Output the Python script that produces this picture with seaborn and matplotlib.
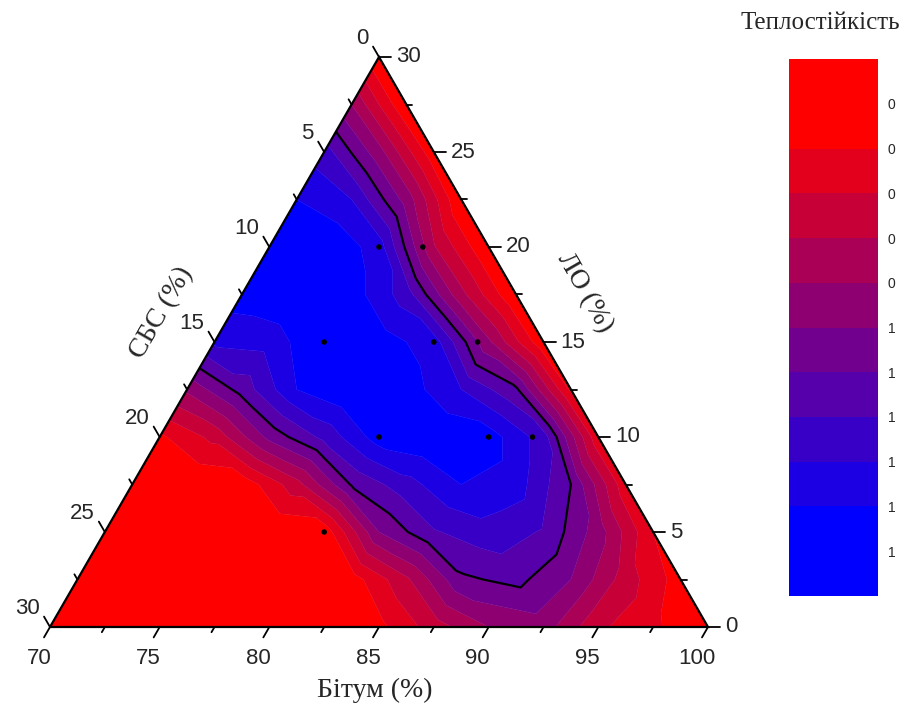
import numpy as np
import matplotlib
matplotlib.use("Agg")
import matplotlib.pyplot as plt
import matplotlib.tri as mtri
import seaborn as sns

sns.set_style("white")
plt.rcParams["font.family"] = ["Liberation Sans", "DejaVu Sans"]

# ---- contour data on a 2.5 % lattice ----
# rows of constant ЛО (%); within a row СБС = 0, 2.5, 5, ... ; Бітум = 100 - СБС - ЛО
lo_rows = [0, 2.5, 5, 7.5, 10, 12.5, 15, 17.5, 20, 22.5, 25, 27.5, 30]
heat_lo0 = [0.00, 0.12, 0.22, 0.45, 0.40, 0.25, 0.07, 0.00, 0.00, 0.00, 0.00, 0.00, 0.00]
heat_lo2_5 = [0.05, 0.25, 0.50, 0.63, 0.58, 0.28, 0.05, 0.00, 0.00, 0.00, 0.00, 0.00]
heat_lo5 = [0.10, 0.45, 0.69, 0.76, 0.69, 0.50, 0.03, 0.00, 0.00, 0.00, 0.00]
heat_lo7_5 = [0.13, 0.60, 0.85, 0.90, 0.76, 0.61, 0.26, 0.03, 0.00, 0.00]
heat_lo10 = [0.12, 0.75, 0.95, 1.00, 0.95, 0.73, 0.53, 0.23, 0.08]
heat_lo12_5 = [0.08, 0.62, 0.80, 0.95, 1.00, 0.90, 0.64, 0.42]
heat_lo15 = [0.02, 0.42, 0.85, 0.95, 1.00, 0.84, 0.82]
heat_lo17_5 = [0.00, 0.33, 0.75, 0.95, 1.00, 0.95]
heat_lo20 = [0.00, 0.31, 0.85, 1.00, 0.95]
heat_lo22_5 = [0.00, 0.46, 0.80, 0.90]
heat_lo25 = [0.03, 0.44, 0.75]
heat_lo27_5 = [0.00, 0.40]
heat_lo30 = [0.00]
heat_rows = [heat_lo0, heat_lo2_5, heat_lo5, heat_lo7_5, heat_lo10, heat_lo12_5,
             heat_lo15, heat_lo17_5, heat_lo20, heat_lo22_5, heat_lo25,
             heat_lo27_5, heat_lo30]
sbs_step = 2.5

# ---- measured compositions (dots) ----
dot_bitum = [75, 77, 75, 80, 82, 80, 85, 87, 80]
dot_sbs = [5, 3, 10, 5, 3, 10, 5, 3, 15]
dot_lo = [20, 20, 15, 15, 15, 10, 10, 10, 5]

bitum_ticks = [70, 75, 80, 85, 90, 95, 100]
sbs_ticks = [0, 5, 10, 15, 20, 25, 30]
lo_ticks = [0, 5, 10, 15, 20, 25, 30]
cbar_ticks = [0.0, 0.1, 0.2, 0.3, 0.4, 0.5, 0.6, 0.7, 0.8, 0.9, 1.0]
cbar_labels = ["0", "0", "0", "0", "0", "1", "1", "1", "1", "1", "1"]
band_edges = [-0.1, 0.1, 0.2, 0.3, 0.4, 0.5, 0.6, 0.7, 0.8, 0.9, 1.1]
line_level = [0.6]

H = np.sqrt(3) / 2


def tern(bitum, sbs, lo):
    b = (np.asarray(bitum, float) - 70) / 30
    l = np.asarray(lo, float) / 30
    return b + l / 2, l * H


# assemble lattice table
g_sbs, g_lo, g_val = [], [], []
for lo_v, row in zip(lo_rows, heat_rows):
    for i, v in enumerate(row):
        g_sbs.append(i * sbs_step)
        g_lo.append(lo_v)
        g_val.append(v)
g_sbs = np.array(g_sbs)
g_lo = np.array(g_lo)
g_val = np.array(g_val)
g_bit = 100 - g_sbs - g_lo

W, Hpx = 907, 710
fig = plt.figure(figsize=(W / 100, Hpx / 100), dpi=100)
ax = fig.add_axes([50 / W, 83 / Hpx, 658 / W, 570 / Hpx])

gx, gy = tern(g_bit, g_sbs, g_lo)
tri = mtri.Triangulation(gx, gy)
colors = sns.blend_palette(["#FF0000", "#0000FF"], 10)
cf = ax.tricontourf(tri, g_val, levels=band_edges, colors=colors, antialiased=True)
cf.set_edgecolor("face")
cf.set_linewidth(0.25)
ax.tricontour(tri, g_val, levels=line_level, colors="k", linewidths=1.6)

# triangle frame
ax.plot([0, 1, 0.5, 0], [0, 0, H, 0], color="k", lw=1.6, clip_on=False,
        solid_joinstyle="miter", zorder=5)

# dots
dx, dy = tern(dot_bitum, dot_sbs, dot_lo)
sns.scatterplot(x=dx, y=dy, ax=ax, color="k", s=16, edgecolor="none",
                zorder=6, legend=False)
ax.set_xlim(0, 1)
ax.set_ylim(0, H)
ax.axis("off")

px = 1 / 658.0  # data units per pixel
maj, mnr = 12 * px, 6 * px
tick_font = dict(fontsize=16, family=["Liberation Sans", "DejaVu Sans"])

# bottom axis (Бітум): ticks parallel to left edge, down-left
d_b = np.array([-0.5, -H])
for v in np.arange(70, 100.01, 2.5):
    x0 = (v - 70) / 30
    L = maj if abs(v % 5) < 1e-9 else mnr
    ax.plot([x0, x0 + d_b[0] * L], [0, d_b[1] * L], color="k", lw=1.3,
            clip_on=False, zorder=5)
for v in bitum_ticks:
    x0 = (v - 70) / 30
    ax.text(x0 - 11 * px, -31 * px, str(v), ha="center", va="center",
            clip_on=False, **tick_font)

# left axis (СБС): ticks parallel to right edge, up-left
d_l = np.array([-0.5, H])
for v in np.arange(0, 30.01, 2.5):
    s = v / 30
    x0, y0 = (1 - s) / 2, (1 - s) * H
    L = maj if abs(v % 5) < 1e-9 else mnr
    ax.plot([x0, x0 + d_l[0] * L], [y0, y0 + d_l[1] * L], color="k", lw=1.3,
            clip_on=False, zorder=5)
for v in sbs_ticks:
    s = v / 30
    x0, y0 = (1 - s) / 2, (1 - s) * H
    ax.text(x0 + d_l[0] * 21 * px, y0 + d_l[1] * 21 * px, str(v),
            ha="right", va="center", clip_on=False, **tick_font)

# right axis (ЛО): horizontal ticks
for v in np.arange(0, 30.01, 2.5):
    l = v / 30
    x0, y0 = 1 - l / 2, l * H
    L = maj if abs(v % 5) < 1e-9 else mnr
    ax.plot([x0, x0 + L], [y0, y0], color="k", lw=1.3, clip_on=False, zorder=5)
for v in lo_ticks:
    l = v / 30
    x0, y0 = 1 - l / 2, l * H
    ax.text(x0 + 17 * px, y0, str(v), ha="left", va="center",
            clip_on=False, **tick_font)

serif = ["Liberation Serif", "DejaVu Serif"]
fig.text(375 / W, 1 - 690 / Hpx, "Бітум (%)", ha="center", va="center",
         fontsize=20, family=serif)
fig.text(162 / W, 1 - 313 / Hpx, "СБС (%)", ha="center", va="center",
         fontsize=20, family=serif, rotation=60)
fig.text(585 / W, 1 - 293 / Hpx, "ЛО (%)", ha="center", va="center",
         fontsize=20, family=serif, rotation=-60)
fig.text(820 / W, 1 - 23 / Hpx, "Теплостійкість", ha="center", va="center",
         fontsize=18, family=serif)

# colorbar
cax = fig.add_axes([789 / W, 1 - 596 / Hpx, 89 / W, 537 / Hpx])
cb = fig.colorbar(cf, cax=cax, spacing="proportional", ticks=cbar_ticks)
cb.set_ticklabels(cbar_labels)
cax.invert_yaxis()
cb.outline.set_visible(False)
cax.tick_params(length=0, labelsize=10, pad=7)

fig.savefig("out.png", dpi=100)
